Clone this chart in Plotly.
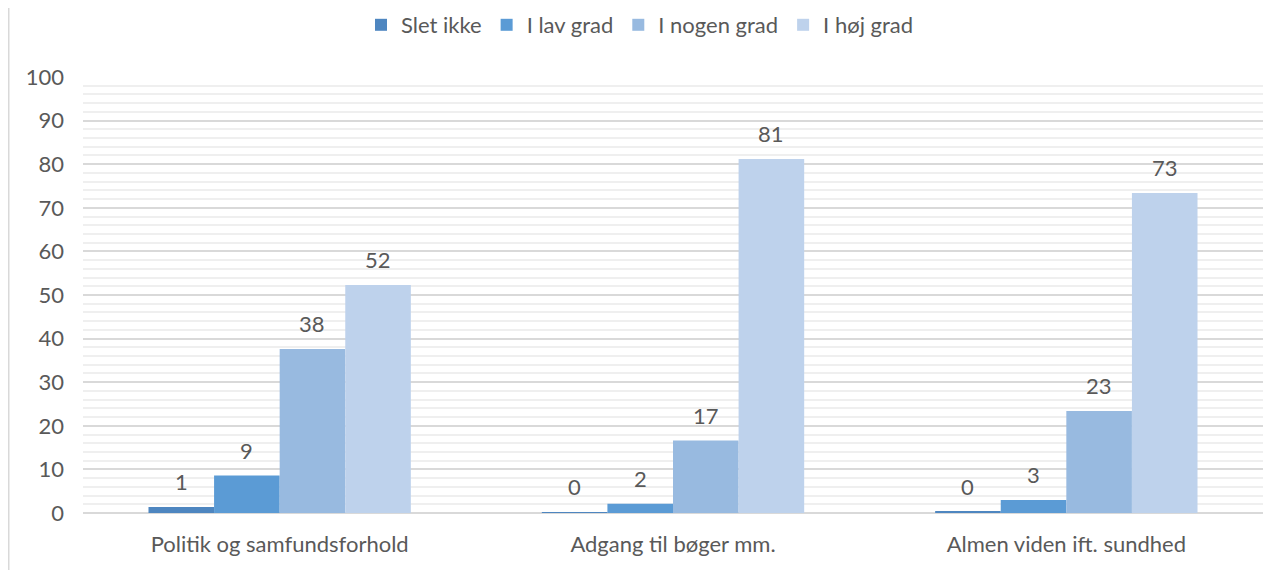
import plotly.graph_objects as go

categories = ["Politik og samfundsforhold", "Adgang til bøger mm.", "Almen viden ift. sundhed"]
series_names = ["Slet ikke", "I lav grad", "I nogen grad", "I høj grad"]
slet_ikke = [1.4, 0.2, 0.3]
i_lav_grad = [8.6, 2.1, 3.0]
i_nogen_grad = [37.6, 16.6, 23.4]
i_hoej_grad = [52.3, 81.2, 73.4]
y_ticks = list(range(0, 101, 10))

colors = ["#4e86c0", "#5b9bd5", "#98bae0", "#bed2ec"]
all_values = [slet_ikke, i_lav_grad, i_nogen_grad, i_hoej_grad]

FONT = "Lato"
TXT = "#595959"
FS = 22

fig = go.Figure()
for name, vals, col in zip(series_names, all_values, colors):
    fig.add_trace(go.Bar(name=name, x=categories, y=vals, marker=dict(color=col, line=dict(width=0))))

W, H, ML, MR, MT, MB = 1280, 570, 75, 25, 69, 65
plot_w = W - ML - MR
plot_h = H - MT - MB
cat_w = plot_w / len(categories)
bargap = 0.333
bar_w = cat_w * (1 - bargap) / len(series_names)
annotations = []
for si, vals in enumerate(all_values):
    off = (si - (len(series_names) - 1) / 2) * bar_w
    for c, v in zip(categories, vals):
        annotations.append(dict(x=c, y=v, xref="x", yref="y", text=f"{round(v):d}", showarrow=False,
                                xshift=off, yshift=10, yanchor="bottom",
                                font=dict(family=FONT, size=FS, color=TXT)))

fig.update_layout(
    width=W, height=H,
    barmode="group", bargap=bargap, bargroupgap=0,
    plot_bgcolor="white", paper_bgcolor="white",
    margin=dict(l=ML, r=MR, t=MT, b=MB, autoexpand=False),
    font=dict(family=FONT, size=FS, color=TXT),
    legend=dict(orientation="h", x=0.5 - 8 / W, xanchor="center", xref="container",
                y=1 - 17 / H, yanchor="middle", yref="container",
                font=dict(family=FONT, size=FS, color=TXT), itemwidth=30, traceorder="normal"),
    annotations=annotations,
    shapes=[dict(type="line", xref="paper", yref="paper", x0=(-ML + 0.75) / plot_w, x1=(-ML + 0.75) / plot_w,
                 y0=-MB / plot_h, y1=(plot_h + MT) / plot_h,
                 line=dict(color="#d9d9d9", width=1.5))],
)
fig.update_yaxes(range=[0, 100], tickvals=y_ticks, gridcolor="#d9d9d9", gridwidth=1.5,
                 minor=dict(dtick=2, gridcolor="#efefef", gridwidth=1.5, showgrid=True),
                 zeroline=True, zerolinecolor="#d9d9d9", zerolinewidth=1.5, automargin=False,
                 showline=False, ticks="", tickfont=dict(size=FS, color=TXT), ticklabelstandoff=18)
fig.update_xaxes(showline=False, ticks="", automargin=False, tickfont=dict(size=FS, color=TXT),
                 ticklabelstandoff=16)

fig.write_html("out.html")
